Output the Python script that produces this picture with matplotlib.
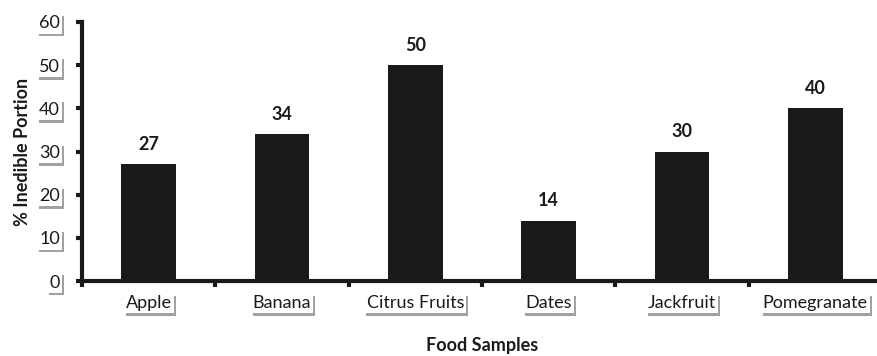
import matplotlib.pyplot as plt
import matplotlib.patheffects as pe

plt.rcParams["font.family"] = ["Lato", "DejaVu Sans"]

foods = ["Apple", "Banana", "Citrus Fruits", "Dates", "Jackfruit", "Pomegranate"]
inedible_pct = [27, 34, 50, 14, 30, 40]
y_ticks = [0, 10, 20, 30, 40, 50, 60]

W, H = 878, 356
fig = plt.figure(figsize=(W / 100, H / 100), dpi=100)
ax = fig.add_axes([82 / W, 1 - 281 / H, 800 / W, 259 / H])

x = range(len(foods))
ax.bar(x, inedible_pct, width=0.41, color="#1a1a1a", zorder=2)

for xi, v in zip(x, inedible_pct):
    ax.annotate(str(v), (xi, v), xytext=(0, 8), textcoords="offset points",
                ha="center", va="bottom", fontsize=13, fontweight="bold",
                color="#1a1a1a")

ax.set_xlim(-0.5, len(foods) - 0.5)
ax.set_ylim(0, 60)
ax.set_yticks(y_ticks)

# ticks on category boundaries, labels at the centres
ax.set_xticks([i - 0.5 for i in range(len(foods))])
ax.set_xticklabels([])
ax.set_xticks(list(x), minor=True)
ax.set_xticklabels(foods, minor=True)
ax.tick_params(axis="x", which="minor", length=0, pad=10)

for side in ["top", "right"]:
    ax.spines[side].set_visible(False)
for side in ["left", "bottom"]:
    ax.spines[side].set_linewidth(3)
    ax.spines[side].set_color("#1a1a1a")

ax.tick_params(axis="both", which="major", length=4, width=3, color="#1a1a1a",
               labelsize=13, labelcolor="#1a1a1a")
ax.tick_params(axis="x", which="minor", labelsize=13, labelcolor="#1a1a1a")
ax.tick_params(axis="y", pad=12)

shadow = [pe.SimplePatchShadow(offset=(1.5, -2), shadow_rgbFace="#555555", alpha=0.55),
          pe.Normal()]
labels = ax.get_yticklabels() + ax.get_xticklabels(minor=True)
for lab in labels:
    lab.set_bbox(dict(facecolor="white", edgecolor="none", pad=1.5))
    lab.get_bbox_patch().set_path_effects(shadow)

ax.set_ylabel("% Inedible Portion", fontsize=13, fontweight="bold",
              color="#1a1a1a", labelpad=6)
fig.text(482 / W, 1 - 345 / H, "Food Samples", ha="center", va="center",
         fontsize=13, fontweight="bold", color="#1a1a1a")

fig.savefig("out.png", dpi=100)
